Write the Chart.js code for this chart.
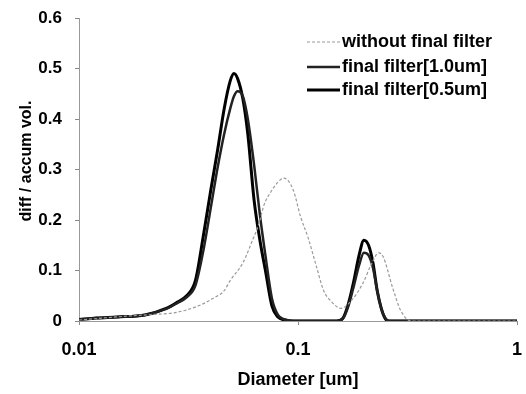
<!DOCTYPE html>
<html><head><meta charset="utf-8">
<script src="https://cdn.jsdelivr.net/npm/chart.js@4/dist/chart.umd.min.js"></script>
<style>html,body{margin:0;padding:0;background:#fff}#wrap{width:526px;height:394px}</style>
</head><body><div id="wrap"><canvas id="c" width="526" height="394"></canvas></div>
<script>
const diameters = [0.01, 0.012, 0.015, 0.02, 0.025, 0.028, 0.031, 0.034, 0.037, 0.040, 0.043, 0.046, 0.049, 0.051, 0.053, 0.056, 0.059, 0.063, 0.067, 0.071, 0.076, 0.081, 0.087, 0.095, 0.11, 0.13, 0.15, 0.16, 0.17, 0.18, 0.19, 0.2, 0.21, 0.22, 0.23, 0.24, 0.25, 0.26, 0.3, 0.5, 1.0];
const filter05 = [0.003, 0.006, 0.008, 0.012, 0.025, 0.037, 0.05, 0.08, 0.17, 0.26, 0.34, 0.42, 0.475, 0.49, 0.48, 0.44, 0.37, 0.24, 0.16, 0.1, 0.03, 0.008, 0.002, 0, 0, 0, 0, 0.005, 0.035, 0.08, 0.13, 0.16, 0.15, 0.115, 0.06, 0.025, 0.005, 0, 0, 0, 0];
const filter10 = [0.003, 0.006, 0.008, 0.012, 0.024, 0.035, 0.047, 0.07, 0.14, 0.225, 0.305, 0.37, 0.42, 0.445, 0.455, 0.445, 0.40, 0.31, 0.21, 0.13, 0.045, 0.012, 0.003, 0, 0, 0, 0, 0.004, 0.03, 0.07, 0.11, 0.135, 0.13, 0.105, 0.06, 0.025, 0.006, 0, 0, 0, 0];
const noFilterDiam = [0.01, 0.013, 0.017, 0.022, 0.027, 0.031, 0.036, 0.041, 0.046, 0.049, 0.056, 0.062, 0.066, 0.070, 0.075, 0.081, 0.086, 0.095, 0.103, 0.111, 0.121, 0.131, 0.141, 0.157, 0.175, 0.198, 0.215, 0.234, 0.245, 0.27, 0.295, 0.33, 0.5, 1.0];
const noFilterVals = [0.002, 0.006, 0.01, 0.013, 0.016, 0.022, 0.032, 0.045, 0.06, 0.08, 0.115, 0.16, 0.19, 0.23, 0.255, 0.275, 0.283, 0.26, 0.205, 0.166, 0.11, 0.06, 0.04, 0.025, 0.04, 0.075, 0.11, 0.135, 0.127, 0.067, 0.02, 0, 0, 0];
const seriesLabels = ['without final filter', 'final filter[1.0um]', 'final filter[0.5um]'];
const xTicks = [0.01, 0.1, 1];
const xTickLabels = ['0.01', '0.1', '1'];
const yTickLabels = ['0', '0.1', '0.2', '0.3', '0.4', '0.5', '0.6'];
const xTitle = 'Diameter [um]';
const yTitle = 'diff / accum vol.';

const FONT = '"Liberation Sans", Arial, sans-serif';

const legendPlugin = {
  id: 'customLegend',
  afterDraw(chart) {
    const ctx = chart.ctx;
    ctx.save();
    const rows = [42, 67, 90];
    chart.data.datasets.forEach((ds, i) => {
      const y = rows[i];
      ctx.beginPath();
      ctx.strokeStyle = ds.borderColor;
      ctx.lineWidth = ds.borderWidth;
      ctx.setLineDash(ds.borderDash || []);
      ctx.moveTo(307, y); ctx.lineTo(340, y);
      ctx.stroke();
      ctx.setLineDash([]);
      ctx.fillStyle = '#000';
      ctx.font = 'bold 18px ' + FONT;
      ctx.textBaseline = 'middle';
      ctx.textAlign = 'left';
      ctx.fillText(ds.label, 342, y);
    });
    ctx.translate(27, 161);
    ctx.rotate(-Math.PI / 2);
    ctx.font = 'bold 16px ' + FONT;
    ctx.textAlign = 'center';
    ctx.textBaseline = 'middle';
    ctx.fillText(yTitle, 0, 0);
    ctx.restore();
  }
};

const mk = (xs, ys) => xs.map((d, i) => ({ x: d, y: ys[i] }));

new Chart(document.getElementById('c'), {
  type: 'line',
  data: {
    datasets: [
      { label: seriesLabels[0], data: mk(noFilterDiam, noFilterVals), borderColor: '#9a9a9a', borderWidth: 1.2, borderDash: [3, 2], pointRadius: 0, cubicInterpolationMode: 'monotone', fill: false },
      { label: seriesLabels[1], data: mk(diameters, filter10), borderColor: '#222', borderWidth: 2.5, pointRadius: 0, cubicInterpolationMode: 'monotone', fill: false },
      { label: seriesLabels[2], data: mk(diameters, filter05), borderColor: '#000', borderWidth: 3, pointRadius: 0, cubicInterpolationMode: 'monotone', fill: false }
    ]
  },
  options: {
    responsive: false,
    animation: false,
    layout: { padding: { left: 0, top: 18, right: 9, bottom: 0 } },
    plugins: { legend: { display: false }, tooltip: { enabled: false } },
    scales: {
      x: {
        type: 'logarithmic', min: 0.01, max: 1,
        afterBuildTicks: (s) => { s.ticks = xTicks.map(v => ({ value: v })); },
        afterFit: (s) => { s.height = 73; s.paddingLeft = 0; s.paddingRight = 0; },
        ticks: { callback: (v) => { const i = xTicks.indexOf(v); return i >= 0 ? xTickLabels[i] : ''; }, color: '#000', font: { family: FONT, size: 18, weight: 'bold' }, padding: 14, maxRotation: 0, autoSkip: false },
        grid: { drawOnChartArea: false, drawTicks: true, tickLength: 4, color: '#888' },
        border: { display: true, color: '#999', dash: [1, 4], width: 1 },
        title: { display: true, text: xTitle, color: '#000', font: { family: FONT, size: 18, weight: 'bold' }, padding: { top: 2, bottom: 3 } }
      },
      y: {
        min: 0, max: 0.6,
        afterFit: (s) => { s.width = 79; s.paddingTop = 0; s.paddingBottom = 0; },
        ticks: { stepSize: 0.1, callback: (v, i) => yTickLabels[i], color: '#000', font: { family: FONT, size: 17, weight: 'bold' }, padding: 13 },
        grid: { drawOnChartArea: false, drawTicks: true, tickLength: 4, color: '#888' },
        border: { display: true, color: '#999', dash: [1, 4], width: 1 }
      }
    }
  },
  plugins: [legendPlugin]
});
</script></body></html>
